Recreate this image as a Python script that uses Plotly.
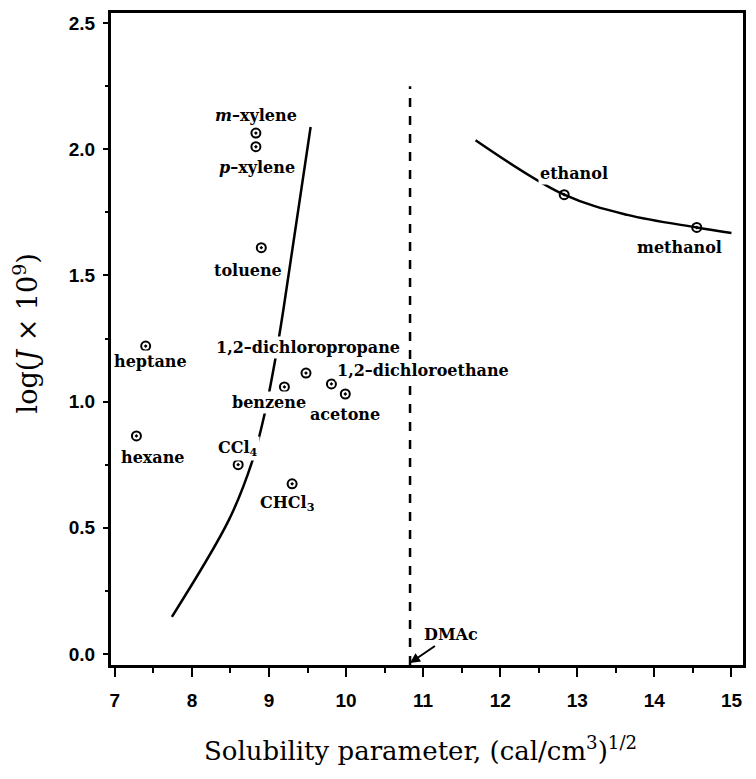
import plotly.graph_objects as go

# ---- data ----
solvents = ["m-xylene", "p-xylene", "toluene", "heptane", "hexane", "CCl4", "CHCl3",
            "benzene", "1,2-dichloropropane", "1,2-dichloroethane", "acetone",
            "ethanol", "methanol"]
delta = [8.83, 8.83, 8.90, 7.40, 7.28, 8.60, 9.30, 9.20, 9.48, 9.81, 9.99, 12.83, 14.55]
logJ = [2.064, 2.010, 1.610, 1.220, 0.864, 0.750, 0.674, 1.058, 1.113, 1.070, 1.030, 1.820, 1.690]

curve1_x = [7.74, 8.48, 8.78, 8.94, 9.08, 9.19, 9.54]
curve1_y = [0.147, 0.531, 0.761, 0.947, 1.165, 1.371, 2.088]
curve2_x = [11.68, 12.83, 13.65, 14.55, 15.0]
curve2_y = [2.036, 1.820, 1.740, 1.690, 1.668]

dmac_x = 10.83
dmac_top = 2.25

x_ticks = [7, 8, 9, 10, 11, 12, 13, 14, 15]
y_ticks = [0.0, 0.5, 1.0, 1.5, 2.0, 2.5]

# label text and placement (display only)
label_text = {
    "m-xylene": "<i>m</i>\u2013xylene", "p-xylene": "<i>p</i>\u2013xylene",
    "CCl4": "CCl<sub>4</sub>", "CHCl3": "CHCl<sub>3</sub>",
    "1,2-dichloropropane": "1,2\u2013dichloropropane",
    "1,2-dichloroethane": "1,2\u2013dichloroethane",
}
label_pos = {
    "m-xylene": (8.83, 2.135), "p-xylene": (8.845, 1.929), "toluene": (8.73, 1.521),
    "heptane": (7.46, 1.157), "hexane": (7.49, 0.78), "CCl4": (8.60, 0.816),
    "CHCl3": (9.24, 0.598), "benzene": (9.00, 0.998),
    "1,2-dichloropropane": (9.50, 1.216), "1,2-dichloroethane": (11.0, 1.125),
    "acetone": (9.99, 0.947), "ethanol": (12.96, 1.905), "methanol": (14.32, 1.612),
}

SERIF = "DejaVu Serif"
fig = go.Figure()

fig.add_trace(go.Scatter(x=curve1_x, y=curve1_y, mode="lines",
                         line=dict(color="black", width=2.5, shape="spline"),
                         hoverinfo="skip", showlegend=False))
fig.add_trace(go.Scatter(x=curve2_x, y=curve2_y, mode="lines",
                         line=dict(color="black", width=2.5, shape="spline"),
                         hoverinfo="skip", showlegend=False))
fig.add_trace(go.Scatter(x=[dmac_x, dmac_x], y=[-0.044, dmac_top], mode="lines",
                         line=dict(color="black", width=2.5, dash="dash"),
                         hoverinfo="skip", showlegend=False))
fig.add_trace(go.Scatter(x=delta, y=logJ, mode="markers", text=solvents,
                         marker=dict(symbol="circle-open-dot", size=9, color="black",
                                     line=dict(width=2, color="black")),
                         showlegend=False))

for s in solvents:
    lx, ly = label_pos[s]
    fig.add_annotation(x=lx, y=ly, text="<b>%s</b>" % label_text.get(s, s), showarrow=False,
                       font=dict(family=SERIF, size=16, color="black"),
                       bgcolor="white", borderpad=1)

fig.add_annotation(x=dmac_x, y=-0.036, text="<b>DMAc</b>", showarrow=True,
                   ax=41, ay=-28, arrowhead=2, arrowsize=1, arrowwidth=2,
                   arrowcolor="black", standoff=0,
                   font=dict(family=SERIF, size=16, color="black"))

fig.add_annotation(xref="paper", yref="paper", x=0.49, y=-0.1, yanchor="top",
                   text="Solubility parameter, (cal/cm<sup>3</sup>)<sup>1/2</sup>",
                   showarrow=False, font=dict(family=SERIF, size=26, color="black"))
fig.add_annotation(xref="paper", yref="paper", x=-0.135, y=0.508, textangle=-90,
                   xanchor="center", yanchor="middle",
                   text="log(<i>J</i> \u00d7 10<sup>9</sup>)",
                   showarrow=False, font=dict(family=SERIF, size=27, color="black"))

tickfont = dict(family="Liberation Sans", size=19, color="black", weight="bold")
axis_common = dict(showline=True, linewidth=3, linecolor="black", mirror=True,
                   showgrid=False, zeroline=False, ticks="outside", tickcolor="black",
                   tickwidth=2, tickfont=tickfont)

fig.update_xaxes(range=[6.95, 15.15], tickvals=x_ticks, ticktext=[str(v) for v in x_ticks],
                 ticklen=9, ticklabelstandoff=7,
                 minor=dict(dtick=0.5, ticks="outside", ticklen=5,
                            tickwidth=2, tickcolor="black"),
                 **axis_common)
fig.update_yaxes(range=[-0.044, 2.54], tickvals=y_ticks,
                 ticktext=["%.1f" % v for v in y_ticks], ticklen=5, ticklabelstandoff=4,
                 minor=dict(dtick=0.25, ticks="outside", ticklen=3, tickwidth=2,
                            tickcolor="black"),
                 **axis_common)

fig.update_layout(width=740, height=759, margin=dict(l=103, r=2, t=5, b=102),
                  plot_bgcolor="white", paper_bgcolor="white")

fig.write_html("out.html")
